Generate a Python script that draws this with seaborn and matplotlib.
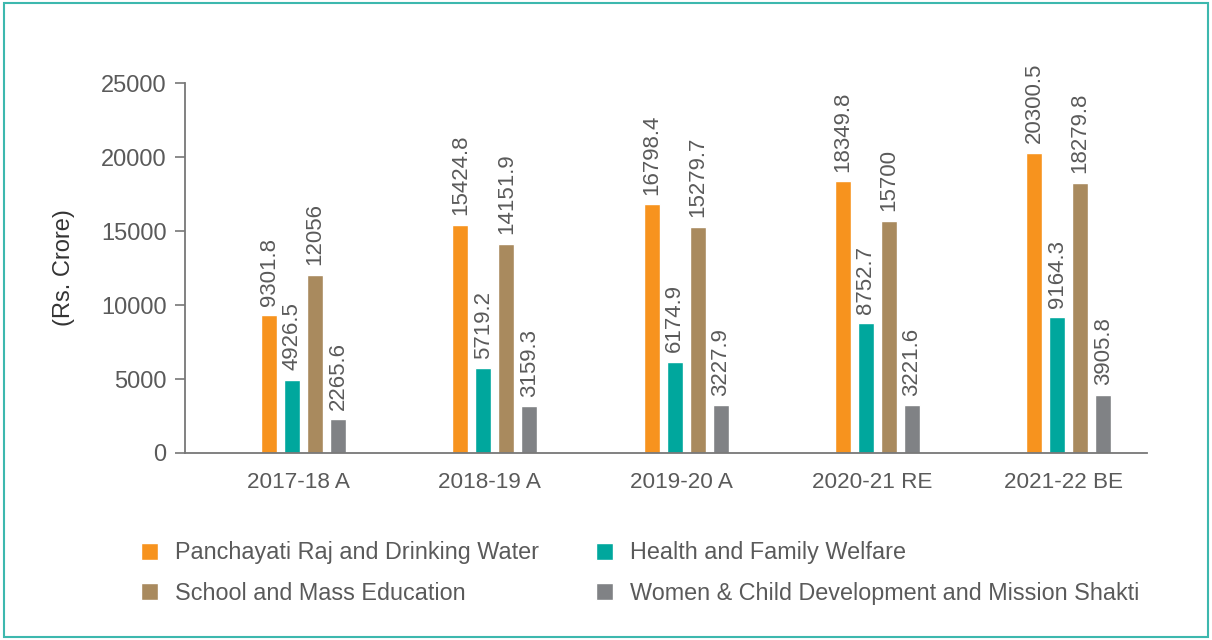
import matplotlib
matplotlib.use("Agg")
import matplotlib.pyplot as plt
import matplotlib.patches as mpatches
import seaborn as sns
import pandas as pd
import numpy as np

years = ["2017-18 A", "2018-19 A", "2019-20 A", "2020-21 RE", "2021-22 BE"]
series_names = [
    "Panchayati Raj and Drinking Water",
    "Health and Family Welfare",
    "School and Mass Education",
    "Women & Child Development and Mission Shakti",
]
panchayati = [9301.8, 15424.8, 16798.4, 18349.8, 20300.5]
health = [4926.5, 5719.2, 6174.9, 8752.7, 9164.3]
school = [12056, 14151.9, 15279.7, 15700, 18279.8]
women = [2265.6, 3159.3, 3227.9, 3221.6, 3905.8]
label_text = [
    ["9301.8", "15424.8", "16798.4", "18349.8", "20300.5"],
    ["4926.5", "5719.2", "6174.9", "8752.7", "9164.3"],
    ["12056", "14151.9", "15279.7", "15700", "18279.8"],
    ["2265.6", "3159.3", "3227.9", "3221.6", "3905.8"],
]
y_ticks = [0, 5000, 10000, 15000, 20000, 25000]
colors = ["#F7931E", "#00A79D", "#A98A5E", "#808285"]

rows = []
for name, vals in zip(series_names, [panchayati, health, school, women]):
    for yr, v in zip(years, vals):
        rows.append({"Year": yr, "Series": name, "Value": v})
df = pd.DataFrame(rows)

sns.set_theme(style="white")
plt.rcParams["font.family"] = ["Liberation Sans", "DejaVu Sans"]
text_color = "#5a5a5a"

fig = plt.figure(figsize=(12.12, 6.4), dpi=100)
ax = fig.add_axes([185 / 1212, 0.2922, 962 / 1212, 0.578])

sns.barplot(data=df, x="Year", y="Value", hue="Series", hue_order=series_names,
            order=years, palette=colors, width=0.4815, gap=0.304, ax=ax,
            saturation=1, legend=True, errorbar=None)

for cont, labs in zip(ax.containers, label_text):
    ax.bar_label(cont, labels=labs, rotation=90, padding=7, fontsize=16,
                 color=text_color, clip_on=False)

ax.set_ylim(0, 25000)
ax.set_xlim(-0.62, 4.41)
ax.set_yticks(y_ticks)
ax.set_yticklabels([str(t) for t in y_ticks])
ax.set_xticks(np.arange(len(years)) - 0.026)
ax.set_xticklabels(years)
ax.set_xlabel("")
ax.set_ylabel("(Rs. Crore)", fontsize=17, color="#333333", labelpad=19)
ax.tick_params(axis="y", which="both", left=True, length=7.2, width=1.2,
               color="#777777", labelsize=17, labelcolor=text_color, pad=6)
ax.tick_params(axis="x", bottom=False, labelsize=16.2, labelcolor=text_color, pad=8)
for s in ["top", "right"]:
    ax.spines[s].set_visible(False)
for s in ["left", "bottom"]:
    ax.spines[s].set_color("#777777")
    ax.spines[s].set_linewidth(1.3)

handles, labels = ax.get_legend_handles_labels()
ax.get_legend().remove()
order = [0, 2, 1, 3]
fig.legend([handles[i] for i in order], [labels[i] for i in order],
           loc="upper left", bbox_to_anchor=(0.099, 0.187), ncol=2,
           frameon=False, fontsize=16.8, handlelength=0.73, handleheight=0.73,
           handletextpad=0.73, columnspacing=2.45, labelspacing=0.75,
           labelcolor=text_color)

border = mpatches.Rectangle((0.003, 0.004), 0.994, 0.991, transform=fig.transFigure,
                            fill=False, edgecolor="#3DB8AE", linewidth=1.5)
fig.patches.append(border)

fig.savefig("out.png", dpi=100)
